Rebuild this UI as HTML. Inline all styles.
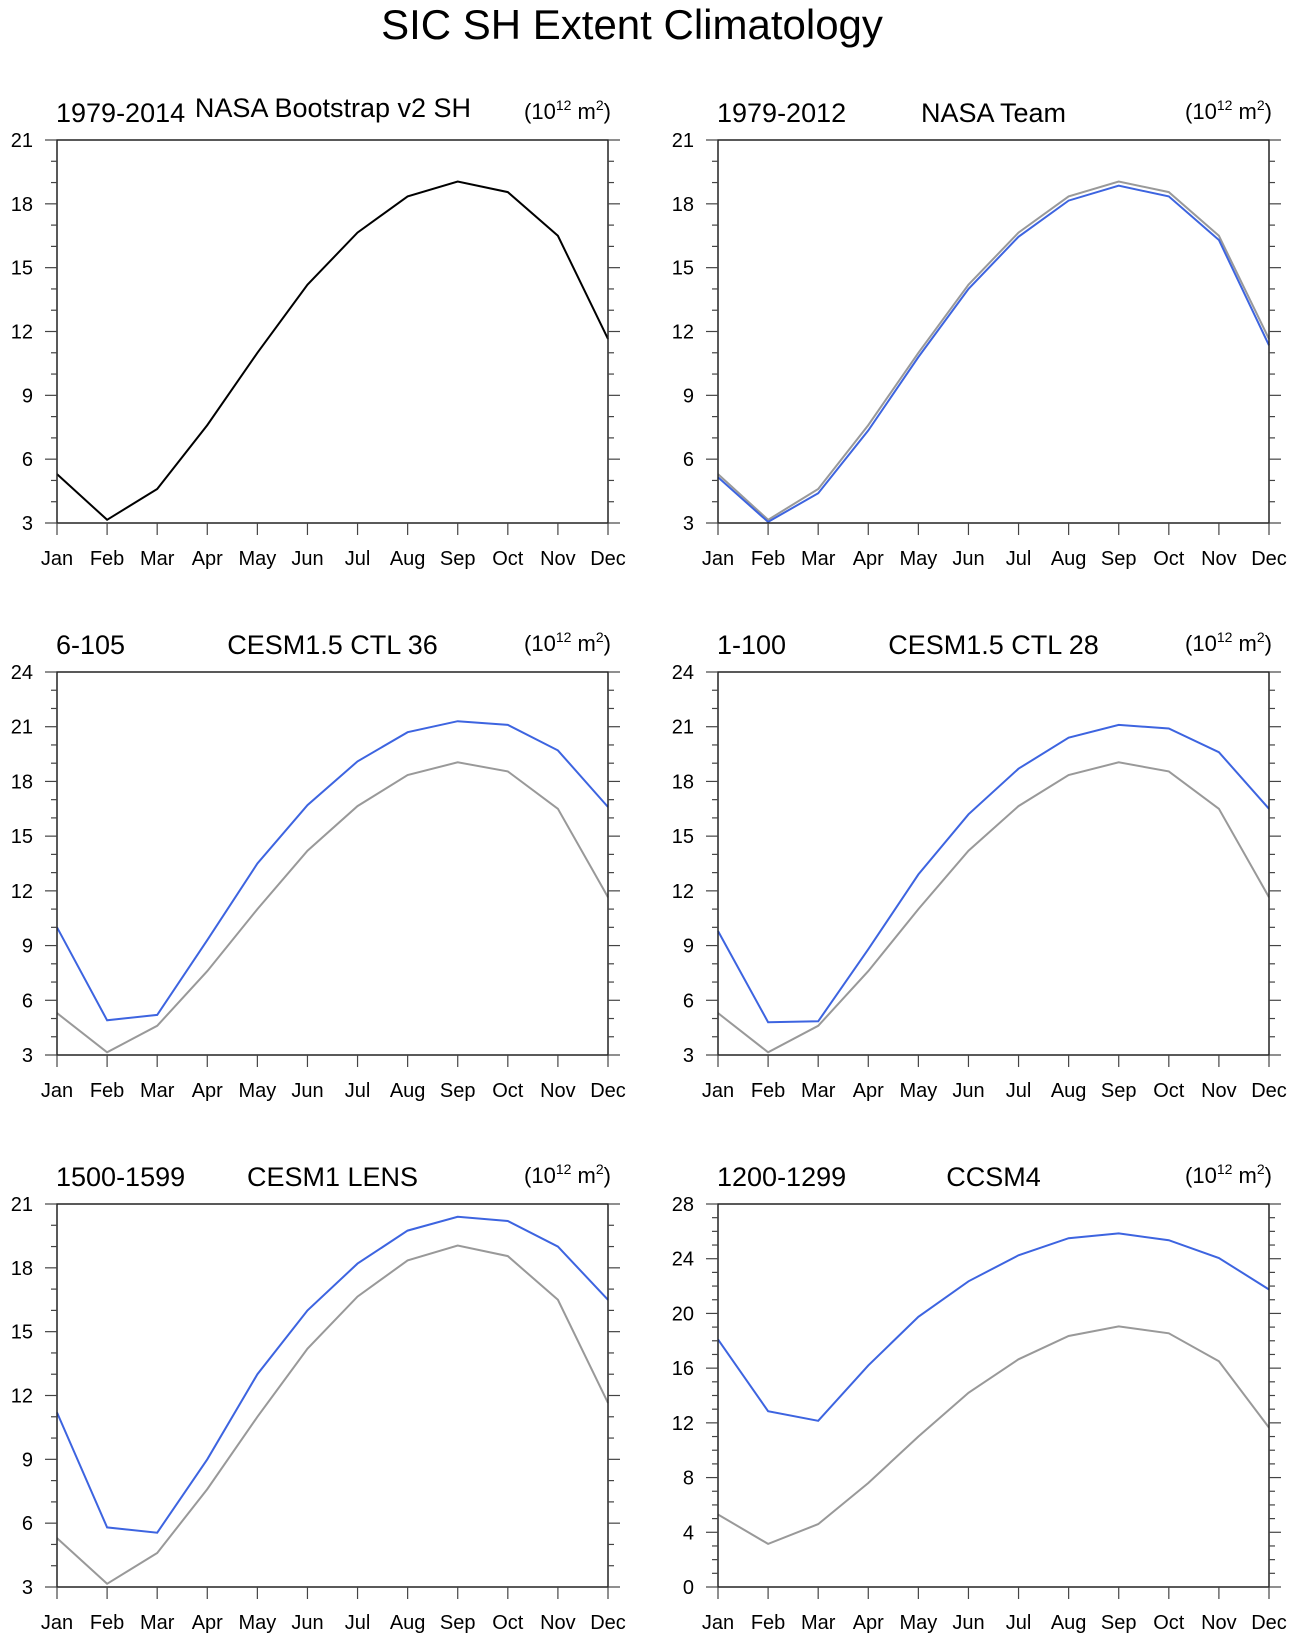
<!DOCTYPE html>
<html><head><meta charset="utf-8"><style>
html,body{margin:0;padding:0;background:#fff}
svg{display:block}
text{font-family:"Liberation Sans",Arial,sans-serif;fill:#000}
</style></head><body>
<svg id="chart" width="1296" height="1642" viewBox="0 0 1296 1642" xmlns="http://www.w3.org/2000/svg">
<text x="632" y="39" font-size="42" text-anchor="middle">SIC SH Extent Climatology</text>
</svg>
<script>
const months = ["Jan","Feb","Mar","Apr","May","Jun","Jul","Aug","Sep","Oct","Nov","Dec"];
const obsBootstrap = [5.3,3.15,4.6,7.6,11.0,14.2,16.65,18.35,19.05,18.55,16.5,11.65];
const nasaTeam = [5.15,3.05,4.4,7.35,10.8,14.0,16.45,18.15,18.85,18.35,16.3,11.35];
const cesmCtl36 = [10.0,4.9,5.2,9.3,13.5,16.7,19.1,20.7,21.3,21.1,19.7,16.6];
const cesmCtl28 = [9.8,4.8,4.85,8.8,12.9,16.2,18.7,20.4,21.1,20.9,19.6,16.5];
const cesmLens = [11.2,5.8,5.55,9.0,13.0,16.0,18.2,19.75,20.4,20.2,19.0,16.5];
const ccsm4 = [18.1,12.85,12.15,16.2,19.75,22.35,24.25,25.5,25.85,25.35,24.05,21.75];
const ticksA = [3,6,9,12,15,18,21];
const ticksB = [3,6,9,12,15,18,21,24];
const ticksC = [0,4,8,12,16,20,24,28];

const NS="http://www.w3.org/2000/svg";
const svg=document.getElementById('chart');
function mk(tag,attrs,parent){const e=document.createElementNS(NS,tag);for(const k in attrs)e.setAttribute(k,attrs[k]);(parent||svg).appendChild(e);return e;}

const panels=[
 {left:57,top:140,period:"1979-2014",name:"NASA Bootstrap v2 SH",ticks:ticksA,minor:1,series:[[obsBootstrap,"#000"]],raise:true,key:"bootstrap"},
 {left:718,top:140,period:"1979-2012",name:"NASA Team",ticks:ticksA,minor:1,series:[[obsBootstrap,"#999"],[nasaTeam,"#3d64e0"]],key:"nasa-team"},
 {left:57,top:672,period:"6-105",name:"CESM1.5 CTL 36",ticks:ticksB,minor:1,series:[[obsBootstrap,"#999"],[cesmCtl36,"#3d64e0"]],key:"ctl36"},
 {left:718,top:672,period:"1-100",name:"CESM1.5 CTL 28",ticks:ticksB,minor:1,series:[[obsBootstrap,"#999"],[cesmCtl28,"#3d64e0"]],key:"ctl28"},
 {left:57,top:1204,period:"1500-1599",name:"CESM1 LENS",ticks:ticksA,minor:1,series:[[obsBootstrap,"#999"],[cesmLens,"#3d64e0"]],key:"lens"},
 {left:718,top:1204,period:"1200-1299",name:"CCSM4",ticks:ticksC,minor:1,series:[[obsBootstrap,"#999"],[ccsm4,"#3d64e0"]],key:"ccsm4"}
];
const W=551,H=383;
panels.forEach(p=>{
 const g=mk('g',{});
 
 
 const ymin=p.ticks[0],ymax=p.ticks[p.ticks.length-1];
 const xs=i=>p.left+i*W/(months.length-1);
 const ys=v=>p.top+H-(v-ymin)/(ymax-ymin)*H;
 p.series.forEach((s,si)=>{
  const d=s[0].map((v,i)=>(i?'L':'M')+xs(i).toFixed(1)+' '+ys(v).toFixed(1)).join(' ');
  const path=mk('path',{d:d,fill:'none',stroke:s[1],'stroke-width':2,'stroke-linejoin':'miter'},g);
  
  
 });
 const fr=mk('rect',{x:p.left,y:p.top,width:W,height:H,fill:'none',stroke:'#222','stroke-width':1.5},g);
 
 
 for(let v=ymin;v<=ymax+1e-9;v+=p.minor){
  const major=p.ticks.indexOf(v)>=0;
  const y=ys(v);const L=major?12:6;
  mk('line',{x1:p.left-L,y1:y,x2:p.left,y2:y,stroke:'#444','stroke-width':1.2},g);
  mk('line',{x1:p.left+W,y1:y,x2:p.left+W+L,y2:y,stroke:'#444','stroke-width':1.2},g);
 }
 p.ticks.forEach(v=>{
  const t=mk('text',{x:p.left-24,y:ys(v)+7,'font-size':20,'text-anchor':'end'},g);
  t.textContent=v;
  
  
 });
 months.forEach((m,i)=>{
  mk('line',{x1:xs(i),y1:p.top+H,x2:xs(i),y2:p.top+H+12,stroke:'#444','stroke-width':1.2},g);
  const t=mk('text',{x:xs(i),y:p.top+H+42,'font-size':20,'text-anchor':'middle'},g);
  t.textContent=m;
  
  
 });
 const t1=mk('text',{x:p.left-1,y:p.top-18,'font-size':27},g);
 t1.textContent=p.period;
 
 
 const t2=mk('text',{x:p.raise?p.left+276:p.left+W/2,y:p.raise?p.top-23:p.top-18,'font-size':27,'text-anchor':'middle'},g);
 t2.textContent=p.name;
 
 
 const t3=mk('text',{x:p.left+W+3,y:p.top-21,'font-size':22,'text-anchor':'end'},g);
 
 
 t3.innerHTML='(10<tspan dy="-9" font-size="14">12</tspan><tspan dy="9"> m</tspan><tspan dy="-9" font-size="14">2</tspan><tspan dy="9">)</tspan>';
});
</script>
</body></html>
